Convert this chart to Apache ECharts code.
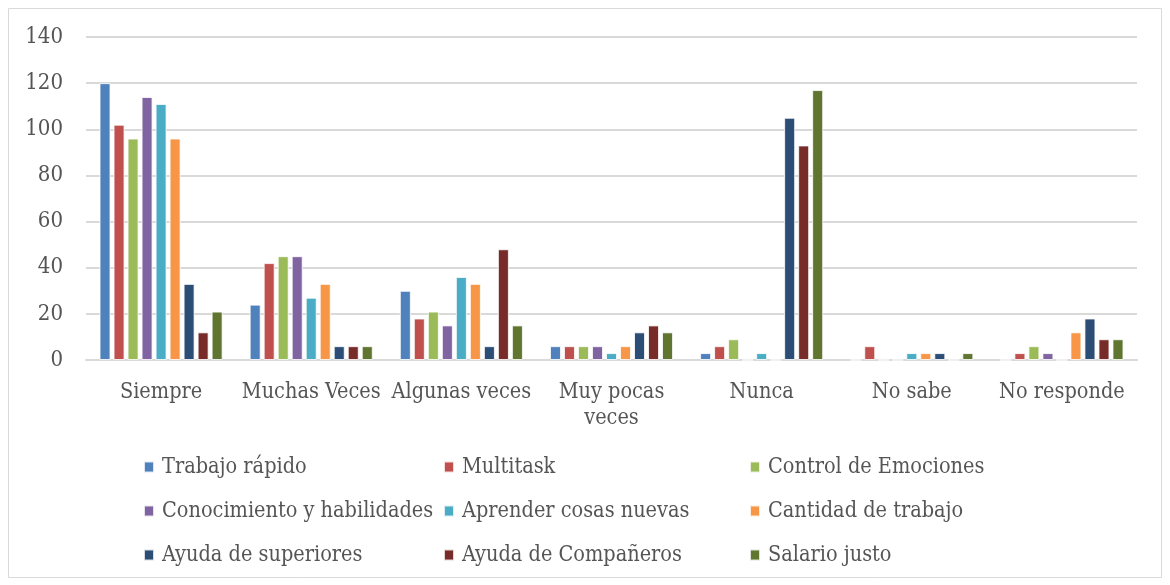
<!DOCTYPE html>
<html>
<head>
<meta charset="utf-8">
<script src="https://cdn.jsdelivr.net/npm/echarts@6/dist/echarts.min.js"></script>
<style>
  html, body { margin: 0; padding: 0; background: #fff; }
  #chart { width: 1170px; height: 585px; }
</style>
</head>
<body>
<div id="chart"></div>
<script>
const categories = ["Siempre", "Muchas Veces", "Algunas veces", "Muy pocas\nveces", "Nunca", "No sabe", "No responde"];

const trabajoRapido   = [120, 24, 30, 6, 3, 0, 0];
const multitask       = [102, 42, 18, 6, 6, 6, 3];
const controlEmoc     = [96, 45, 21, 6, 9, 0, 6];
const conocimiento    = [114, 45, 15, 6, 0, 0, 3];
const aprender        = [111, 27, 36, 3, 3, 3, 0];
const cantidad        = [96, 33, 33, 6, 0, 3, 12];
const ayudaSuperiores = [33, 6, 6, 12, 105, 3, 18];
const ayudaCompaneros = [12, 6, 48, 15, 93, 0, 9];
const salarioJusto    = [21, 6, 15, 12, 117, 3, 9];

const seriesNames = [
  "Trabajo rápido", "Multitask", "Control de Emociones",
  "Conocimiento y habilidades", "Aprender cosas nuevas", "Cantidad de trabajo",
  "Ayuda de superiores", "Ayuda de Compañeros", "Salario justo",
];
const seriesValues = [
  trabajoRapido, multitask, controlEmoc,
  conocimiento, aprender, cantidad,
  ayudaSuperiores, ayudaCompaneros, salarioJusto,
];
const colors = ["#4F81BD", "#C0504D", "#9BBB59", "#8064A2", "#4BACC6", "#F79646", "#2C4D75", "#772C2A", "#5F7530"];

const FONT = "DejaVu Serif Condensed";
const TEXT_COLOR = "#555555";
const GRID_COLOR = "#D9D9D9";

const chart = echarts.init(document.getElementById("chart"), null, { renderer: "canvas" });

// leyenda en tres columnas, como en la figura original
const legendCol = (left, names) => ({
  orient: "vertical",
  left: left,
  top: 456,
  padding: 0,
  itemGap: 22,
  itemWidth: 10,
  itemHeight: 11,
  icon: "rect",
  data: names,
  textStyle: { color: TEXT_COLOR, fontFamily: FONT, fontSize: 21.5, padding: [0, 0, 0, 3] },
});

chart.setOption({
  animation: false,
  color: colors,
  graphic: [
    {
      type: "rect",
      shape: { x: 8.5, y: 8.5, width: 1153, height: 569 },
      style: { fill: "none", stroke: GRID_COLOR, lineWidth: 1 },
      silent: true,
    },
  ],
  grid: { left: 86, right: 33, top: 37, bottom: 225 },
  legend: [
    legendCol(143, [seriesNames[0], seriesNames[3], seriesNames[6]]),
    legendCol(443, [seriesNames[1], seriesNames[4], seriesNames[7]]),
    legendCol(749, [seriesNames[2], seriesNames[5], seriesNames[8]]),
  ],
  xAxis: {
    type: "category",
    data: categories,
    axisTick: { show: false },
    axisLine: { lineStyle: { color: GRID_COLOR, width: 2 } },
    axisLabel: {
      color: TEXT_COLOR,
      fontFamily: FONT,
      fontSize: 21.5,
      margin: 19,
      lineHeight: 26,
      interval: 0,
    },
  },
  yAxis: {
    type: "value",
    min: 0,
    max: 140,
    interval: 20,
    axisLine: { show: false },
    axisTick: { show: false },
    splitLine: { lineStyle: { color: GRID_COLOR, width: 2 } },
    axisLabel: { color: TEXT_COLOR, fontFamily: FONT, fontSize: 22, margin: 23 },
  },
  series: seriesValues.map((vals, i) => ({
    type: "bar",
    name: seriesNames[i],
    data: vals,
    barGap: "27%",
    barCategoryGap: "18%",
    itemStyle: { borderColor: "rgba(255,255,255,0.8)", borderWidth: 1 },
  })),
});
</script>
</body>
</html>
